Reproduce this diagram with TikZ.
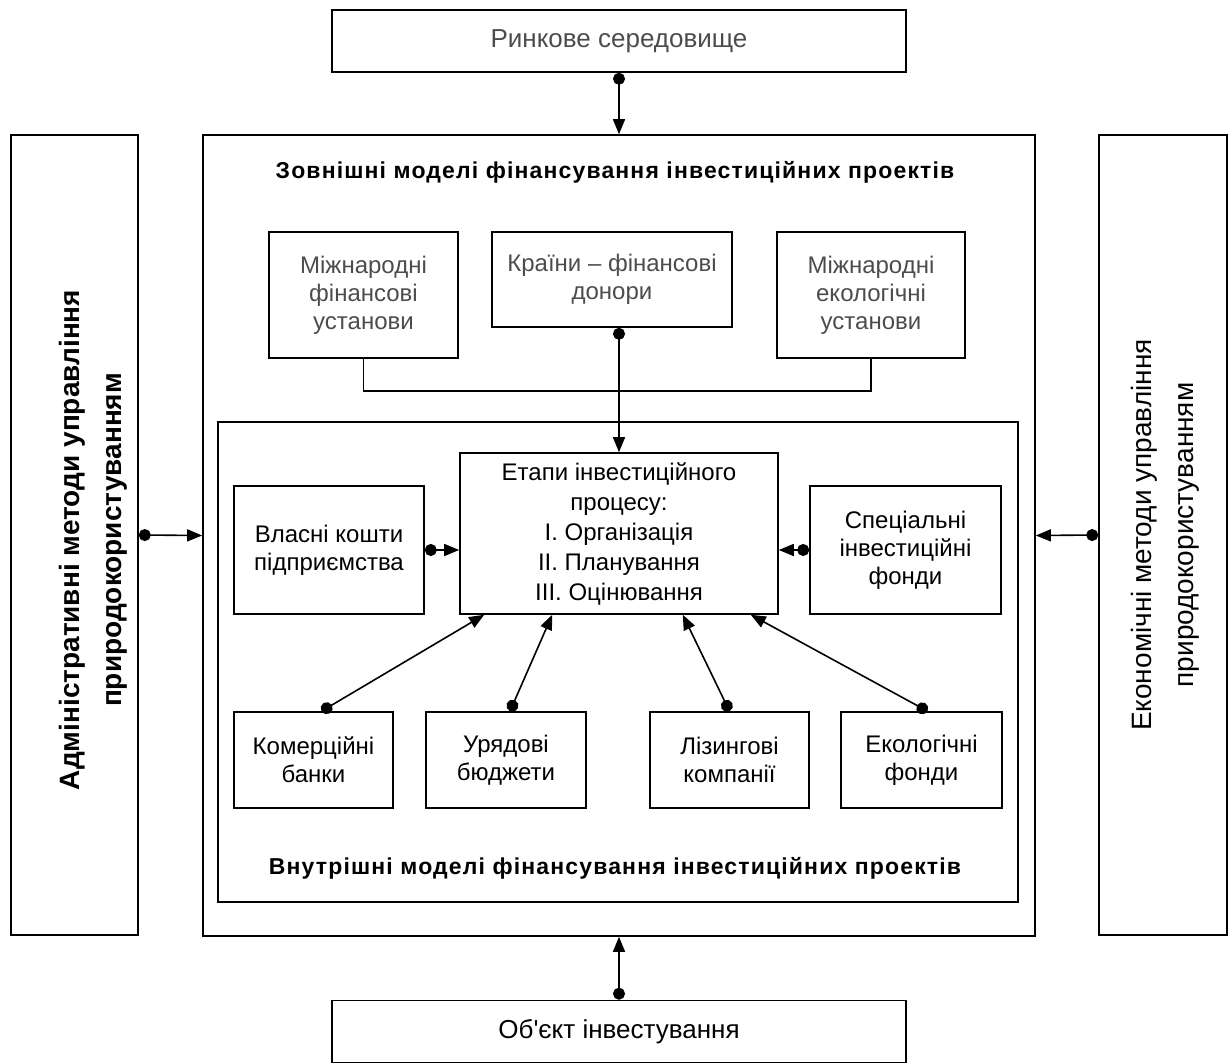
\documentclass[tikz,border=0pt]{standalone}
\usepackage{fontspec}
\setmainfont{Liberation Sans}
\newfontfamily\plainsans{Liberation Sans}
\usetikzlibrary{arrows.meta}
\begin{document}
\begin{tikzpicture}[x=1pt,y=-1pt,
  box/.style={draw, line width=1.6pt, inner sep=0pt, align=center,
    font=\fontsize{24}{28}\selectfont},
  faded/.style={text=black!70},
  frame/.style={draw, line width=1.6pt, inner sep=0pt},
  heading/.style={font=\fontsize{23}{27}\bfseries\selectfont\addfontfeature{LetterSpace=5}},
  link/.style={line width=1.6pt,
    {Circle[length=12pt,width=12pt]}-{Triangle[length=15pt,width=12pt]}},
  bracket/.style={line width=1.6pt},
]
\useasboundingbox (0,0) rectangle (1229,1064);

% outer frames
\node[frame, minimum width=832pt, minimum height=801pt] (outer) at (619,535.5) {};
\node[frame, minimum width=800pt, minimum height=480pt] (inner) at (618,662) {};

% environment and object
\node[box, faded, font=\fontsize{26}{30}\selectfont,
  minimum width=574pt, minimum height=62pt] (market) at (619,41) {Ринкове середовище};
\node[box, font=\fontsize{26}{30}\plainsans\selectfont,
  minimum width=574pt, minimum height=62pt] (object) at (619,1031.5) {Об'єкт інвестування};

% side panels
\node[box, minimum width=127pt, minimum height=800pt] (left) at (74.5,535) {};
\node[box, minimum width=128pt, minimum height=800pt] (right) at (1163,535) {};
\node[rotate=90, align=center, font=\fontsize{28}{42}\bfseries\selectfont]
  (lefttext) at (93,540) {Адміністративні методи управління\\природокористуванням};
\node[rotate=90, align=center, font=\fontsize{28}{42}\selectfont]
  (righttext) at (1165,535) {Економічні методи управління\\природокористуванням};

% headings
\node[heading] (extitle) at (615,172) {Зовнішні моделі фінансування інвестиційних проектів};
\node[heading] (intitle) at (615,868) {Внутрішні моделі фінансування інвестиційних проектів};

% external sources
\node[box, faded, minimum width=189pt, minimum height=126pt] (mfu) at (363.5,295)
  {Міжнародні\\фінансові\\установи};
\node[box, faded, minimum width=240pt, minimum height=95pt] (donors) at (612,279.5)
  {Країни -- фінансові\\донори};
\node[box, faded, minimum width=188pt, minimum height=126pt] (meu) at (871,295)
  {Міжнародні\\екологічні\\установи};

% investment process
\node[box, font=\fontsize{24}{30}\selectfont,
  minimum width=318pt, minimum height=161pt] (stages) at (619,533.5)
  {Етапи інвестиційного\\процесу:\\I. Організація\\II. Планування\\III. Оцінювання};
\node[box, minimum width=190pt, minimum height=128pt] (own) at (329,550)
  {Власні кошти\\підприємства};
\node[box, minimum width=191pt, minimum height=128pt] (special) at (905.5,550)
  {Спеціальні\\інвестиційні\\фонди};

% internal sources
\node[box, minimum width=159pt, minimum height=96pt] (banks) at (313.5,760)
  {Комерційні\\банки};
\node[box, minimum width=160pt, minimum height=96pt] (budgets) at (506,760)
  {Урядові\\бюджети};
\node[box, minimum width=159pt, minimum height=96pt] (leasing) at (729.5,760)
  {Лізингові\\компанії};
\node[box, minimum width=161pt, minimum height=96pt] (eco) at (921.5,760)
  {Екологічні\\фонди};

% connectors
\draw[link] (market.south) -- (outer.north);
\draw[link] (object.north) -- (outer.south);
\draw[link] (left.east) -- (outer.west);
\draw[link] (right.west) -- (outer.east);
\draw[bracket] (mfu.south) -- ++(0,32) -| (meu.south);
\draw[link] (stages.north |- donors.south) -- (stages.north);
\draw[link] (own.east) -- (stages.west |- own.east);
\draw[link] (special.west) -- (stages.east |- special.west);
\draw[link] ([xshift=8pt]banks.north) -- ([xshift=25pt]stages.south west);
\draw[link] ([xshift=4pt]budgets.north) -- ([xshift=93pt]stages.south west);
\draw[link] (leasing.north) -- ([xshift=-96pt]stages.south east);
\draw[link] ([xshift=6pt]eco.north) -- ([xshift=-28pt]stages.south east);
\end{tikzpicture}
\end{document}
